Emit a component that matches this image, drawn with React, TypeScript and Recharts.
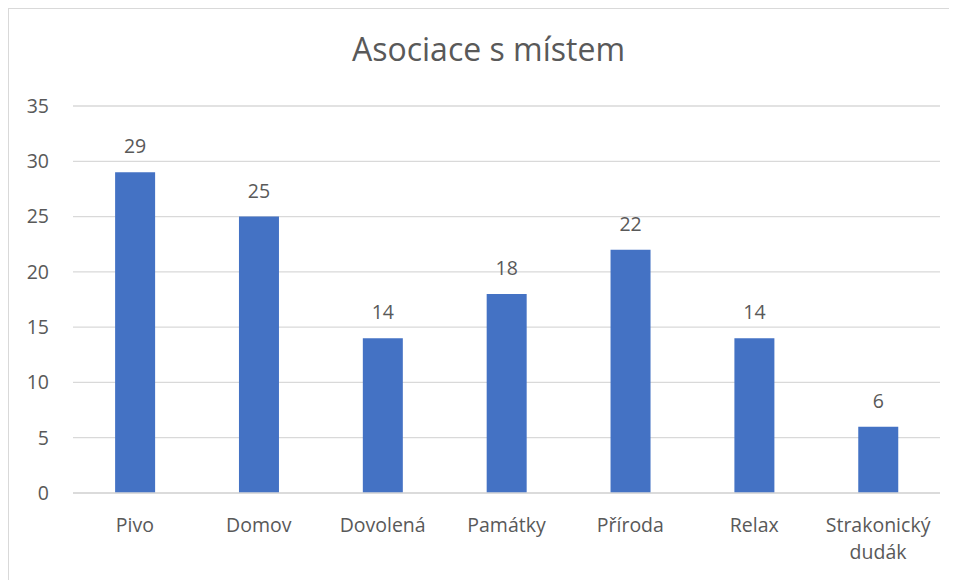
import { BarChart, Bar, XAxis, YAxis, CartesianGrid, LabelList } from 'recharts'

const categories = ['Pivo', 'Domov', 'Dovolená', 'Památky', 'Příroda', 'Relax', 'Strakonický dudák']
const counts = [29, 25, 14, 18, 22, 14, 6]
const yTicks = [0, 5, 10, 15, 20, 25, 30, 35]

const title = 'Asociace s místem'
const textColor = '#595959'
const gridColor = '#d9d9d9'
const barColor = '#4472C4'
const font = '"Open Sans", "Noto Sans", sans-serif'
const labelSize = 19.5

const data = categories.map((name, i) => ({ name, value: counts[i] }))

function CategoryTick({ x, y, payload }: any) {
  const words = String(payload.value).split(' ')
  // Excel wraps the long label onto two lines
  const lines = words.length > 1 && payload.value.length > 12 ? words : [payload.value]
  return (
    <text x={x} y={y} textAnchor="middle" fill={textColor} fontSize={labelSize} fontFamily={font}>
      {lines.map((l: string, i: number) => (
        <tspan key={i} x={x} dy={i === 0 ? 31 : 27}>
          {l}
        </tspan>
      ))}
    </text>
  )
}

export default function App() {
  return (
    <div
      style={{
        position: 'relative',
        width: 948,
        height: 571,
        borderTop: `1px solid ${gridColor}`,
        borderLeft: `1px solid ${gridColor}`,
        overflow: 'hidden',
        background: '#fff',
      }}
    >
      <div
        style={{
          position: 'absolute',
          left: 0,
          top: 22,
          width: 959,
          textAlign: 'center',
          fontFamily: font,
          fontSize: 32,
          lineHeight: '36px',
          color: textColor,
        }}
      >
        {title}
      </div>
      <BarChart
        width={948}
        height={571}
        data={data}
        margin={{ top: 97, right: 17, left: 0, bottom: 27 }}
        barCategoryGap="34%"
      >
        <CartesianGrid vertical={false} stroke={gridColor} strokeWidth={1.3} />
        <XAxis
          dataKey="name"
          tick={<CategoryTick />}
          tickLine={false}
          axisLine={{ stroke: gridColor, strokeWidth: 1.3 }}
          interval={0}
          height={60}
        />
        <YAxis
          domain={[0, 35]}
          ticks={yTicks}
          width={64}
          axisLine={false}
          tickLine={false}
          tickMargin={18}
          tick={{ fontSize: labelSize, fill: textColor, fontFamily: font }}
        />
        <Bar dataKey="value" fill={barColor} isAnimationActive={false}>
          <LabelList
            dataKey="value"
            position="top"
            offset={19}
            fill={textColor}
            fontSize={labelSize}
            fontFamily={font}
          />
        </Bar>
      </BarChart>
    </div>
  )
}
